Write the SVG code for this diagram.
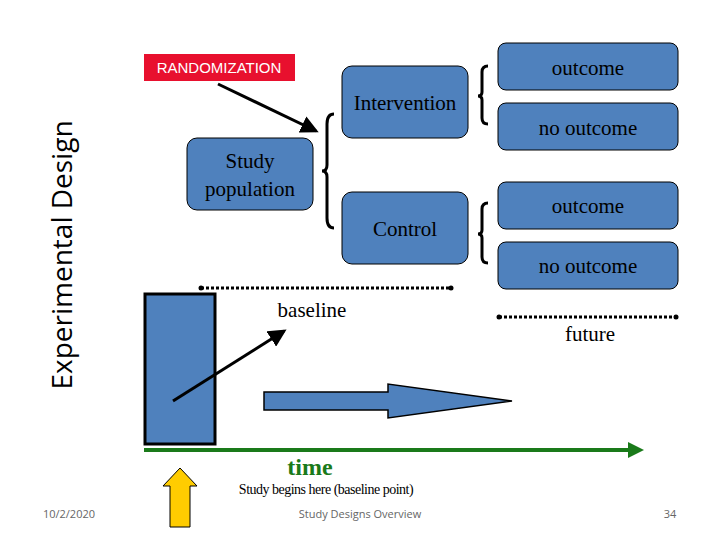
<svg xmlns="http://www.w3.org/2000/svg" width="720" height="540" viewBox="0 0 720 540">
<style>
.box{fill:#4f81bd;stroke:#000;stroke-width:1}
.t{font-family:"Liberation Serif",serif;font-size:21px;fill:#000;text-anchor:middle}
.br{fill:none;stroke:#000;stroke-width:3}
.dot{stroke:#000;stroke-width:3;stroke-dasharray:3 2}
</style>
<defs>
<marker id="ah" markerWidth="6" markerHeight="6" refX="5" refY="3" orient="auto" markerUnits="strokeWidth"><path d="M0,0L6,3L0,6z" fill="#000"/></marker>
<marker id="gh" markerWidth="4" markerHeight="4" refX="3" refY="2" orient="auto" markerUnits="strokeWidth"><path d="M0,0L4,2L0,4z" fill="#1a7a1a"/></marker>
</defs>
<rect width="720" height="540" fill="#fff"/>
<text transform="translate(72,255) rotate(-90)" font-family="Open Sans,sans-serif" font-size="28" text-anchor="middle">Experimental Design</text>
<g id="randomization"><rect x="144" y="54" width="151" height="27" fill="#e8102e"/><text x="219" y="73" font-family="Liberation Sans,sans-serif" font-size="15" fill="#fff" text-anchor="middle">RANDOMIZATION</text></g>
<g id="study"><rect class="box" x="187" y="138" width="126" height="72" rx="10"/><text class="t" x="250" y="168">Study</text><text class="t" x="250" y="196">population</text></g>
<g id="intervention"><rect class="box" x="342" y="66" width="126" height="72" rx="10"/><text class="t" x="405" y="110">Intervention</text></g>
<g id="control"><rect class="box" x="342" y="192" width="126" height="72" rx="10"/><text class="t" x="405" y="236">Control</text></g>
<g id="o1"><rect class="box" x="498" y="43" width="180" height="47" rx="8"/><text class="t" x="588" y="75">outcome</text></g>
<g id="n1"><rect class="box" x="498" y="103" width="180" height="47" rx="8"/><text class="t" x="588" y="135">no outcome</text></g>
<g id="o2"><rect class="box" x="498" y="182" width="180" height="47" rx="8"/><text class="t" x="588" y="213">outcome</text></g>
<g id="n2"><rect class="box" x="498" y="242" width="180" height="47" rx="8"/><text class="t" x="588" y="273">no outcome</text></g>
<g id="baselinebox"><rect x="145" y="294" width="70" height="150" fill="#4f81bd" stroke="#000" stroke-width="3"/></g>
<g id="connectors">
<line x1="218" y1="84" x2="316" y2="131" stroke="#000" stroke-width="3" marker-end="url(#ah)"/>
<path class="br" d="M334,114 Q327,114 327,124 L327,165 Q327,171 322,171 Q327,171 327,177 L327,218 Q327,228 334,228"/>
<path class="br" d="M488,66 Q482,66 482,72 L482,92 Q482,96 478,96 Q482,96 482,100 L482,118 Q482,124 488,124"/>
<path class="br" d="M488,203 Q482,203 482,209 L482,230 Q482,234 478,234 Q482,234 482,238 L482,257 Q482,263 488,263"/>
<line class="dot" x1="201" y1="288" x2="451" y2="288"/>
<circle cx="201" cy="288" r="2.5"/><circle cx="451" cy="288" r="2.5"/>
<line class="dot" x1="499" y1="317" x2="676" y2="317"/>
<circle cx="499" cy="317" r="2.5"/><circle cx="676" cy="317" r="2.5"/>
<line x1="173" y1="401" x2="284" y2="331" stroke="#000" stroke-width="3" marker-end="url(#ah)"/>
<path d="M264,392L388,392L388,384L512,401L388,418L388,410L264,410z" fill="#4f81bd" stroke="#000" stroke-width="1.5"/>
<line x1="144" y1="450" x2="640" y2="450" stroke="#1a7a1a" stroke-width="4" marker-end="url(#gh)"/>
<path d="M170,527L170,486L163,486L180,468L197,486L190,486L190,527z" fill="#ffcc00" stroke="#000" stroke-width="1"/>
</g>
<text class="t" x="312" y="317">baseline</text>
<text class="t" x="590" y="341">future</text>
<text x="310" y="475" font-family="Liberation Serif,serif" font-size="24" font-weight="bold" fill="#1a7a1a" text-anchor="middle">time</text>
<text x="326" y="494" font-family="Liberation Serif,serif" font-size="14" text-anchor="middle" letter-spacing="-0.5">Study begins here  (baseline point)</text>
<text x="69" y="518" font-family="Open Sans,sans-serif" font-size="11" fill="#666" text-anchor="middle">10/2/2020</text>
<text x="360" y="518" font-family="Open Sans,sans-serif" font-size="11" fill="#666" text-anchor="middle">Study Designs Overview</text>
<text x="670" y="518" font-family="Open Sans,sans-serif" font-size="11" fill="#666" text-anchor="middle">34</text>
</svg>
